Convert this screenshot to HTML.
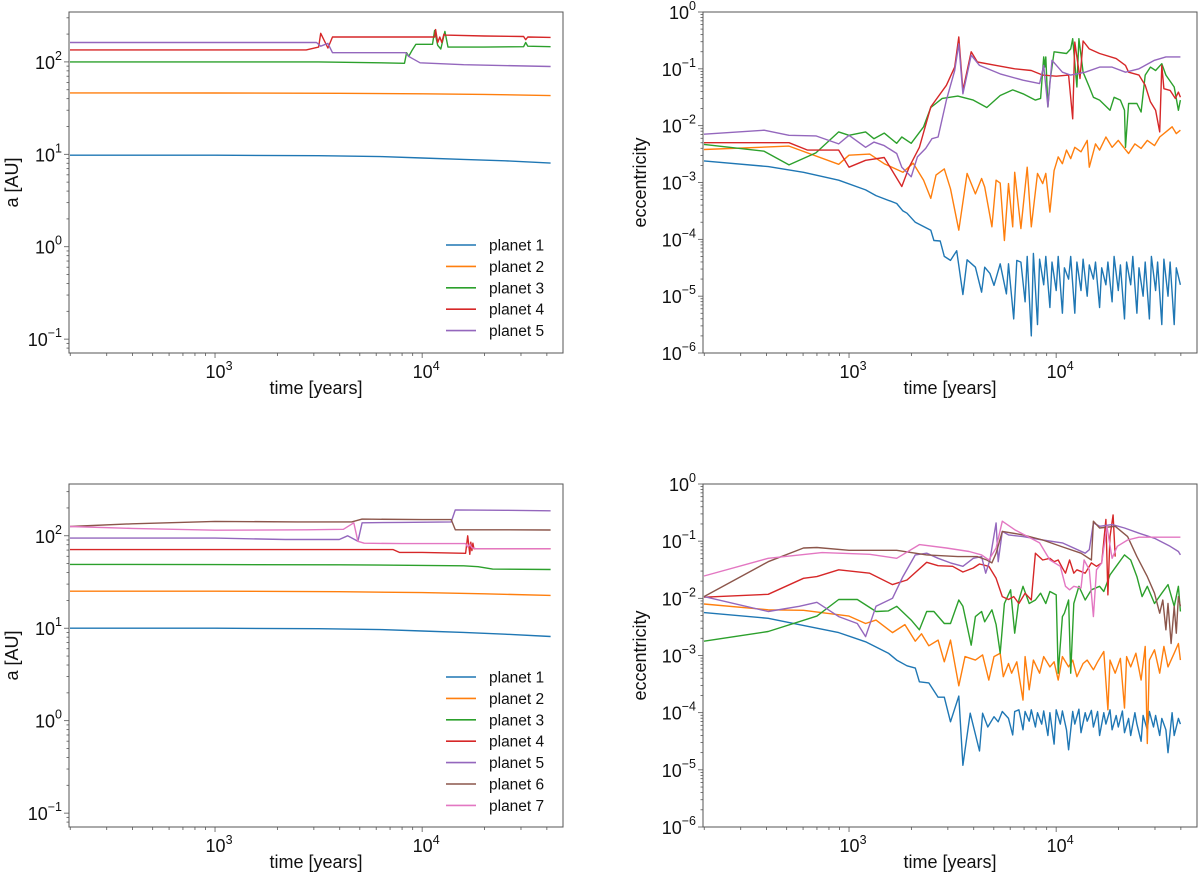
<!DOCTYPE html>
<html><head><meta charset="utf-8"><title>Planet orbital evolution</title>
<style>
html,body{margin:0;padding:0;background:#fff;}
svg{display:block;font-family:"Liberation Sans","DejaVu Sans",sans-serif;}
</style></head>
<body>
<svg id="fig" width="1200" height="873" viewBox="0 0 1200 873" xmlns="http://www.w3.org/2000/svg"></svg>
<script>
// ---------- shared axis data ----------
const xDomainLog = [2.295, 4.68];
const xTickExps = [3, 4];
const aTickExps = [-1, 0, 1, 2];
const eTickExps = [-6, -5, -4, -3, -2, -1, 0];
const colors = ["#1f77b4","#ff7f0e","#2ca02c","#d62728","#9467bd","#8c564b","#e377c2"];
const legendLabels = ["planet 1","planet 2","planet 3","planet 4","planet 5","planet 6","planet 7"];

// ---------- top-left: semi-major axis (log10 t, log10 a) ----------
const tlP1T=[2.30,3.0,3.5,3.8,4.0,4.2,4.4,4.62];
const tlP1V=[0.99,0.99,0.985,0.975,0.96,0.945,0.93,0.905];
const tlP2T=[2.30,3.0,3.6,4.0,4.3,4.62];
const tlP2V=[1.665,1.664,1.66,1.655,1.648,1.635];
const tlP3T=[2.30,3.0,3.5,3.80,3.915,3.925,3.935,3.95,3.97,4.05,4.06,4.075,4.09,4.11,4.125,4.30,4.49,4.50,4.51,4.62];
const tlP3V=[2.0,2.0,2.0,1.99,1.985,2.10,2.06,2.12,2.19,2.19,2.34,2.18,2.14,2.33,2.16,2.16,2.165,2.21,2.17,2.165];
const tlP4T=[2.30,3.0,3.44,3.50,3.51,3.545,3.567,3.70,4.06,4.065,4.075,4.085,4.095,4.105,4.11,4.30,4.49,4.50,4.51,4.62];
const tlP4V=[2.13,2.13,2.13,2.16,2.31,2.15,2.27,2.27,2.27,2.35,2.21,2.27,2.21,2.30,2.29,2.28,2.275,2.24,2.27,2.265];
const tlP5T=[2.30,3.0,3.49,3.51,3.545,3.567,3.70,3.92,3.935,3.95,3.99,4.2,4.62];
const tlP5V=[2.21,2.21,2.21,2.17,2.20,2.10,2.10,2.10,2.06,2.04,1.99,1.97,1.95];

// ---------- bottom-left ----------
const blP1T=[2.30,3.0,3.5,3.8,4.0,4.2,4.4,4.62];
const blP1V=[1.0,1.0,0.995,0.985,0.97,0.955,0.935,0.91];
const blP2T=[2.30,3.0,3.6,4.0,4.3,4.62];
const blP2V=[1.40,1.40,1.395,1.385,1.372,1.355];
const blP3T=[2.30,3.0,3.6,4.0,4.2,4.27,4.34,4.62];
const blP3V=[1.69,1.688,1.686,1.68,1.675,1.665,1.64,1.635];
const blP4T=[2.30,3.0,3.5,3.86,3.89,4.0,4.21,4.22,4.23,4.235,4.24,4.245,4.25,4.30,4.62];
const blP4V=[1.85,1.85,1.85,1.85,1.82,1.82,1.81,2.0,1.80,1.93,1.84,1.92,1.86,1.86,1.86];
const blP5T=[2.30,3.0,3.34,3.60,3.64,3.69,3.71,3.9,4.14,4.16,4.4,4.62];
const blP5V=[1.975,1.975,1.96,1.96,2.0,1.94,2.14,2.145,2.15,2.28,2.275,2.27];
const blP6T=[2.30,2.6,3.0,3.4,3.66,3.71,4.0,4.14,4.16,4.4,4.62];
const blP6V=[2.10,2.13,2.155,2.15,2.15,2.18,2.175,2.175,2.065,2.065,2.062];
const blP7T=[2.30,2.6,3.0,3.44,3.62,3.67,3.69,3.72,3.9,4.21,4.22,4.23,4.24,4.26,4.62];
const blP7V=[2.10,2.08,2.06,2.065,2.07,2.14,1.94,1.92,1.915,1.915,1.88,1.91,1.87,1.86,1.86];

// ---------- top-right: eccentricity (log10 t, log10 e) ----------
const trP1T=[2.30,2.61,2.78,2.95,3.08,3.13,3.23,3.26,3.28,3.32,3.395,3.41,3.44,3.46,3.49,3.52,3.55,3.57,3.61,3.64,3.655,3.68,3.70,3.73,3.76,3.77,3.795,3.81,
3.83,3.85,3.86,3.88,3.89,3.91,3.92,3.94,3.95,3.97,3.98,4.00,4.01,4.03,4.04,4.06,4.07,4.09,4.10,4.12,4.13,4.15,4.16,4.18,4.19,4.21,4.22,4.24,4.25,4.27,4.28,4.30,4.31,4.33,4.34,4.36,4.37,4.39,4.40,4.42,4.43,4.45,4.46,4.48,4.49,4.51,4.52,4.54,4.55,4.57,4.58,4.60];
const trP1V=[-2.62,-2.72,-2.82,-2.96,-3.13,-3.23,-3.37,-3.50,-3.54,-3.70,-3.84,-4.02,-4.03,-4.30,-4.37,-4.20,-4.97,-4.36,-4.49,-4.93,-4.49,-4.60,-4.81,-4.43,-4.96,-4.43,-5.40,-4.37,
-4.4,-5.1,-4.3,-5.7,-4.25,-5.5,-4.35,-4.8,-4.3,-5.2,-4.4,-4.9,-4.3,-5.3,-4.5,-4.7,-4.3,-5.3,-4.4,-4.9,-4.35,-5.0,-4.45,-4.7,-4.4,-5.2,-4.5,-4.8,-4.4,-5.1,-4.3,-4.9,-4.45,-5.4,-4.4,-4.8,-4.3,-5.3,-4.5,-5.0,-4.4,-5.4,-4.3,-4.9,-4.4,-5.5,-4.35,-5.0,-4.4,-5.5,-4.5,-4.8];
const trP2T=[2.30,2.71,2.95,3.0,3.10,3.17,3.26,3.31,3.36,3.395,3.42,3.46,3.49,3.53,3.57,3.61,3.64,3.655,3.69,3.71,3.73,3.75,3.77,3.79,3.80,3.83,3.86,3.88,3.91,3.935,3.95,3.97,3.99,4.01,4.03,4.05,4.07,4.09,4.12,4.15,4.16,4.19,4.21,4.24,4.27,4.30,4.33,4.35,4.38,4.41,4.44,4.475,4.50,4.53,4.56,4.58,4.60];
const trP2V=[-2.42,-2.36,-2.68,-2.52,-2.50,-2.67,-2.82,-2.66,-2.96,-3.28,-2.87,-2.76,-3.11,-3.84,-2.84,-3.20,-2.93,-3.08,-3.78,-2.96,-3.01,-4.02,-3.02,-3.78,-2.82,-3.81,-2.73,-3.78,-2.84,-3.02,-2.84,-3.52,-2.79,-2.55,-2.67,-2.43,-2.58,-2.38,-2.46,-2.26,-2.73,-2.32,-2.43,-2.20,-2.38,-2.26,-2.40,-2.49,-2.32,-2.40,-2.26,-2.35,-2.20,-2.11,-2.02,-2.14,-2.08];
const trP3T=[2.30,2.59,2.71,2.84,2.95,3.0,3.08,3.12,3.17,3.23,3.255,3.30,3.36,3.395,3.45,3.525,3.60,3.665,3.73,3.79,3.84,3.90,3.925,3.94,3.945,3.95,3.96,3.97,3.99,4.05,4.07,4.08,4.10,4.11,4.13,4.16,4.18,4.21,4.26,4.28,4.31,4.33,4.335,4.35,4.39,4.41,4.43,4.455,4.48,4.51,4.53,4.57,4.59,4.60];
const trP3V=[-2.33,-2.45,-2.69,-2.48,-2.11,-2.17,-2.11,-2.23,-2.13,-2.31,-2.20,-2.31,-2.02,-1.68,-1.52,-1.48,-1.55,-1.68,-1.47,-1.37,-1.44,-1.55,-1.52,-0.79,-0.97,-0.79,-1.67,-1.23,-0.70,-0.73,-0.65,-0.47,-1.32,-0.47,-1.06,-1.32,-1.50,-1.55,-1.73,-1.50,-1.55,-1.73,-2.38,-1.61,-1.61,-1.76,-1.11,-0.97,-1.03,-0.91,-1.11,-1.32,-1.73,-1.55];
const trP4T=[2.30,2.71,2.80,2.95,3.0,3.08,3.17,3.255,3.29,3.34,3.395,3.47,3.51,3.53,3.55,3.59,3.62,3.71,3.80,3.88,3.935,4.0,4.06,4.08,4.09,4.115,4.13,4.16,4.21,4.29,4.335,4.35,4.40,4.43,4.455,4.48,4.50,4.51,4.52,4.55,4.575,4.59,4.60];
const trP4V=[-2.30,-2.30,-2.43,-2.43,-2.73,-2.61,-2.56,-3.07,-2.73,-2.38,-1.67,-1.29,-0.97,-0.44,-1.38,-0.70,-0.88,-0.94,-1.0,-1.03,-1.11,-1.13,-1.11,-1.88,-0.53,-1.17,-0.51,-0.65,-0.73,-0.82,-0.94,-1.06,-1.11,-1.29,-1.58,-1.73,-2.11,-0.94,-1.35,-1.38,-1.52,-1.41,-1.50];
const trP5T=[2.30,2.59,2.71,2.84,2.95,3.0,3.08,3.12,3.17,3.23,3.255,3.30,3.33,3.37,3.40,3.43,3.47,3.51,3.53,3.55,3.59,3.63,3.73,3.84,3.92,3.94,3.96,3.98,4.03,4.07,4.14,4.21,4.27,4.335,4.40,4.475,4.53,4.60];
const trP5V=[-2.15,-2.08,-2.17,-2.18,-2.32,-2.17,-2.38,-2.29,-2.35,-2.49,-2.73,-2.90,-2.55,-2.40,-2.23,-2.20,-1.55,-1.03,-0.56,-1.44,-0.76,-0.94,-1.09,-1.20,-1.26,-0.94,-1.67,-0.85,-1.06,-1.11,-1.06,-0.97,-0.97,-1.06,-1.0,-0.85,-0.79,-0.79];

// ---------- bottom-right ----------
const brP1T=[2.30,2.61,2.80,2.95,3.08,3.19,3.23,3.28,3.32,3.34,3.385,3.43,3.46,3.49,3.53,3.55,3.585,3.63,3.645,3.67,3.70,3.72,3.74,3.77,3.79,3.80,
3.82,3.84,3.85,3.87,3.88,3.90,3.91,3.93,3.94,3.96,3.97,3.99,4.00,4.02,4.03,4.05,4.06,4.08,4.09,4.11,4.12,4.14,4.15,4.17,4.18,4.20,4.21,4.23,4.24,4.26,4.27,4.29,4.30,4.32,4.33,4.35,4.36,4.38,4.39,4.41,4.42,4.44,4.45,4.47,4.48,4.50,4.51,4.53,4.54,4.56,4.57,4.59,4.60];
const brP1V=[-2.25,-2.35,-2.49,-2.60,-2.76,-2.96,-3.08,-3.18,-3.22,-3.46,-3.48,-3.73,-3.73,-4.16,-3.71,-4.92,-4.01,-4.67,-4.01,-4.25,-4.07,-4.16,-3.98,-4.10,-4.39,-3.98,
-3.95,-4.3,-3.98,-4.15,-3.95,-4.25,-4.0,-4.2,-3.97,-4.4,-4.0,-4.55,-3.95,-4.2,-3.97,-4.3,-4.65,-3.98,-4.2,-3.94,-4.35,-4.0,-4.15,-3.96,-4.25,-3.98,-4.4,-4.0,-4.2,-3.95,-4.3,-4.05,-4.25,-3.97,-4.35,-4.1,-4.4,-4.0,-4.2,-4.5,-4.05,-4.3,-3.98,-4.25,-4.05,-4.4,-4.1,-4.3,-4.7,-4.0,-4.4,-4.1,-4.2];
const brP2T=[2.30,2.61,2.78,3.0,3.08,3.13,3.21,3.27,3.32,3.35,3.385,3.43,3.46,3.49,3.53,3.56,3.61,3.645,3.675,3.70,3.73,3.745,3.77,3.785,3.81,3.84,3.85,3.87,3.89,3.92,3.94,3.97,3.99,4.01,4.03,4.06,4.08,4.10,4.13,4.15,4.18,4.20,4.23,4.25,4.26,4.285,4.31,4.33,4.34,4.36,4.385,4.41,4.43,4.44,4.45,4.475,4.50,4.52,4.54,4.57,4.59,4.60];
const brP2V=[-2.10,-2.20,-2.21,-2.31,-2.44,-2.38,-2.60,-2.46,-2.75,-2.62,-2.83,-2.73,-3.11,-2.73,-3.53,-3.02,-3.08,-2.99,-3.43,-3.02,-2.96,-3.37,-3.14,-3.31,-3.11,-3.78,-3.02,-3.60,-3.08,-3.31,-3.02,-3.20,-3.11,-3.43,-3.02,-3.20,-3.08,-3.37,-3.14,-3.08,-3.25,-3.11,-2.93,-3.95,-3.08,-3.31,-3.05,-3.92,-3.02,-3.20,-2.96,-3.43,-2.84,-4.54,-3.08,-2.90,-3.31,-2.84,-3.20,-2.96,-2.79,-3.08];
const brP3T=[2.30,2.61,2.845,2.95,3.04,3.13,3.19,3.23,3.30,3.34,3.375,3.41,3.46,3.49,3.53,3.55,3.59,3.61,3.64,3.655,3.69,3.71,3.73,3.75,3.78,3.80,3.82,3.84,3.87,3.90,3.925,3.95,3.97,4.0,4.01,4.03,4.04,4.06,4.07,4.085,4.11,4.14,4.17,4.21,4.23,4.26,4.29,4.33,4.36,4.39,4.415,4.44,4.475,4.51,4.54,4.57,4.59,4.60];
const brP3V=[-2.75,-2.58,-2.31,-2.02,-2.02,-2.23,-2.22,-2.14,-2.38,-2.55,-2.23,-2.23,-2.44,-2.44,-2.03,-2.14,-2.82,-2.32,-2.23,-2.41,-2.20,-2.46,-2.96,-2.09,-1.85,-2.61,-2.03,-1.79,-2.09,-2.03,-1.91,-2.09,-1.88,-1.94,-3.31,-2.32,-2.26,-2.03,-3.31,-2.09,-1.79,-2.03,-1.85,-1.79,-1.88,-1.59,-1.44,-1.24,-1.33,-1.62,-1.97,-1.79,-2.09,-1.91,-1.76,-2.14,-1.79,-2.23];
const brP4T=[2.30,2.61,2.78,2.845,2.95,3.10,3.21,3.28,3.375,3.43,3.50,3.55,3.60,3.63,3.675,3.71,3.74,3.77,3.795,3.82,3.85,3.88,3.90,3.935,3.97,3.99,4.01,4.03,4.045,4.065,4.085,4.10,4.14,4.17,4.195,4.22,4.24,4.25,4.26,4.275,4.285];
const brP4V=[-1.98,-1.93,-1.65,-1.62,-1.50,-1.56,-1.76,-1.68,-1.37,-1.43,-1.44,-1.54,-1.47,-1.40,-1.44,-1.65,-1.97,-2.02,-1.97,-2.09,-1.91,-2.03,-1.21,-1.33,-1.30,-1.36,-1.33,-1.47,-1.56,-1.33,-1.56,-1.50,-1.56,-1.38,-1.44,-1.38,-0.62,-1.94,-0.92,-0.54,-1.27];
const brP5T=[2.30,2.61,2.76,2.845,2.95,3.04,3.08,3.13,3.21,3.26,3.32,3.375,3.43,3.49,3.55,3.60,3.64,3.66,3.68,3.71,3.72,3.74,3.77,3.84,3.935,4.03,4.14,4.16,4.18,4.21,4.27,4.33,4.40,4.475,4.55,4.59,4.60];
const brP5V=[-1.97,-2.23,-2.14,-2.07,-2.32,-2.44,-2.67,-2.14,-2.0,-1.62,-1.24,-1.21,-1.30,-1.38,-1.44,-1.30,-1.27,-1.56,-1.33,-0.68,-1.36,-0.83,-0.89,-0.92,-0.98,-1.03,-1.21,-1.15,-0.68,-0.74,-0.71,-0.77,-0.86,-0.95,-1.09,-1.18,-1.24];
const brP6T=[2.30,2.61,2.78,2.845,3.0,3.23,3.375,3.525,3.62,3.665,3.69,3.71,3.74,3.84,3.935,4.03,4.12,4.17,4.18,4.21,4.285,4.345,4.39,4.44,4.475,4.50,4.515,4.53,4.54,4.555,4.57,4.58,4.59,4.60];
const brP6V=[-1.97,-1.36,-1.12,-1.11,-1.16,-1.16,-1.24,-1.27,-1.27,-1.33,-1.38,-1.21,-0.83,-0.89,-0.98,-1.10,-1.21,-1.33,-0.65,-0.77,-0.74,-0.92,-1.27,-1.62,-1.91,-2.26,-2.03,-2.55,-2.09,-2.79,-2.14,-2.61,-1.97,-2.14];
const brP7T=[2.30,2.61,2.87,3.10,3.23,3.34,3.47,3.58,3.64,3.675,3.71,3.74,3.80,3.92,3.97,4.02,4.045,4.065,4.085,4.12,4.135,4.16,4.18,4.195,4.22,4.245,4.27,4.295,4.345,4.40,4.60];
const brP7V=[-1.61,-1.30,-1.20,-1.23,-1.30,-1.06,-1.12,-1.18,-1.24,-1.33,-1.12,-0.65,-0.80,-1.03,-1.33,-1.44,-1.79,-1.85,-1.79,-1.82,-1.33,-1.50,-2.32,-1.50,-1.38,-0.74,-1.30,-1.09,-0.98,-0.93,-0.93];

// ---------- drawing ----------
const NS="http://www.w3.org/2000/svg";
const fig=document.getElementById('fig');
function mk(tag,attrs,parent){const e=document.createElementNS(NS,tag);for(const k in attrs)e.setAttribute(k,attrs[k]);(parent||fig).appendChild(e);return e;}

function panel(name,box,yLog,yTickExps,series,yTitle,yTitleX,legend){
  const g=mk('g',{});
  
  
  const sx=v=>box.x0+(v-xDomainLog[0])/(xDomainLog[1]-xDomainLog[0])*(box.x1-box.x0);
  const sy=v=>box.y1-(v-yLog[0])/(yLog[1]-yLog[0])*(box.y1-box.y0);
  const clip='clip-'+name;
  const cp=mk('clipPath',{id:clip},g);
  mk('rect',{x:box.x0,y:box.y0,width:box.x1-box.x0,height:box.y1-box.y0},cp);
  const sg=mk('g',{'clip-path':'url(#'+clip+')'},g);
  series.forEach((s,i)=>{
    const d=s.t.map((t,j)=>(j?'L':'M')+sx(t).toFixed(1)+','+sy(s.v[j]).toFixed(1)).join('');
    const p=mk('path',{d:d,fill:'none',stroke:colors[i],'stroke-width':1.4,'stroke-linejoin':'round'},sg);
    
    
  });
  const fr=mk('rect',{x:box.x0,y:box.y0,width:box.x1-box.x0,height:box.y1-box.y0,fill:'none',stroke:'#555','stroke-width':1},g);
  
  
  // x ticks
  for(let k=2;k<=4;k++){for(let m=1;m<=9;m++){const lv=k+Math.log10(m);if(lv<xDomainLog[0]||lv>xDomainLog[1])continue;const x=sx(lv);mk('line',{x1:x,x2:x,y1:box.y1,y2:box.y1+(m===1?5:3),stroke:'#555','stroke-width':0.8},g);}}
  xTickExps.forEach(e=>{const t=mk('text',{x:sx(e)+4,y:box.y1+25,'text-anchor':'middle','font-size':18,fill:'#111'},g);t.textContent='10';const s=mk('tspan',{dy:-8,'font-size':12.5},t);s.textContent=String(e);
    });
  // y ticks
  for(let k=Math.floor(yLog[0]);k<=Math.ceil(yLog[1]);k++){for(let m=1;m<=9;m++){const lv=k+Math.log10(m);if(lv<yLog[0]-1e-6||lv>yLog[1]+1e-6)continue;const y=sy(lv);mk('line',{x1:box.x0,x2:box.x0-(m===1?5:2.5),y1:y,y2:y,stroke:'#555','stroke-width':0.8},g);}}
  yTickExps.forEach(e=>{const y=sy(e);
    const t=mk('text',{x:box.x0-7,y:y+7,'text-anchor':'end','font-size':18,fill:'#111'},g);
    t.textContent='10';
    const s=mk('tspan',{dy:-9,'font-size':12.5},t);
    s.textContent=(e<0?'\u2212'+(-e):String(e));
    
  });
  const xt=mk('text',{x:(box.x0+box.x1)/2,y:box.y1+41,'text-anchor':'middle','font-size':18,fill:'#111'},g);xt.textContent='time [years]';
  
  const cy=(box.y0+box.y1)/2;
  const yt=mk('text',{x:yTitleX,y:cy,'text-anchor':'middle','font-size':18,fill:'#111',transform:'rotate(-90 '+yTitleX+' '+cy+')'},g);yt.textContent=yTitle;
  
  if(legend){series.forEach((s,i)=>{const y=legend.y+i*21.4;
    const l=mk('line',{x1:legend.x,x2:legend.x+30,y1:y,y2:y,stroke:colors[i],'stroke-width':1.6},g);
    
    const t=mk('text',{x:legend.x+43,y:y+5.5,'font-size':15.5,fill:'#111'},g);t.textContent=legendLabels[i];
    });}
}

panel('top-left-axis-chart',{x0:69,x1:563,y0:12,y1:353},[-1.15,2.54],aTickExps,
  [{t:tlP1T,v:tlP1V},{t:tlP2T,v:tlP2V},{t:tlP3T,v:tlP3V},{t:tlP4T,v:tlP4V},{t:tlP5T,v:tlP5V}],'a [AU]',18,{x:446,y:245});
panel('top-right-eccentricity-chart',{x0:703,x1:1197,y0:12,y1:353},[-6,0],eTickExps,
  [{t:trP1T,v:trP1V},{t:trP2T,v:trP2V},{t:trP3T,v:trP3V},{t:trP4T,v:trP4V},{t:trP5T,v:trP5V}],'eccentricity',646,null);
panel('bottom-left-axis-chart',{x0:69,x1:563,y0:484,y1:827},[-1.15,2.56],aTickExps,
  [{t:blP1T,v:blP1V},{t:blP2T,v:blP2V},{t:blP3T,v:blP3V},{t:blP4T,v:blP4V},{t:blP5T,v:blP5V},{t:blP6T,v:blP6V},{t:blP7T,v:blP7V}],'a [AU]',18,{x:446,y:677});
panel('bottom-right-eccentricity-chart',{x0:703,x1:1197,y0:484,y1:827},[-6,0],eTickExps,
  [{t:brP1T,v:brP1V},{t:brP2T,v:brP2V},{t:brP3T,v:brP3V},{t:brP4T,v:brP4V},{t:brP5T,v:brP5V},{t:brP6T,v:brP6V},{t:brP7T,v:brP7V}],'eccentricity',646,null);
</script>
</body></html>
